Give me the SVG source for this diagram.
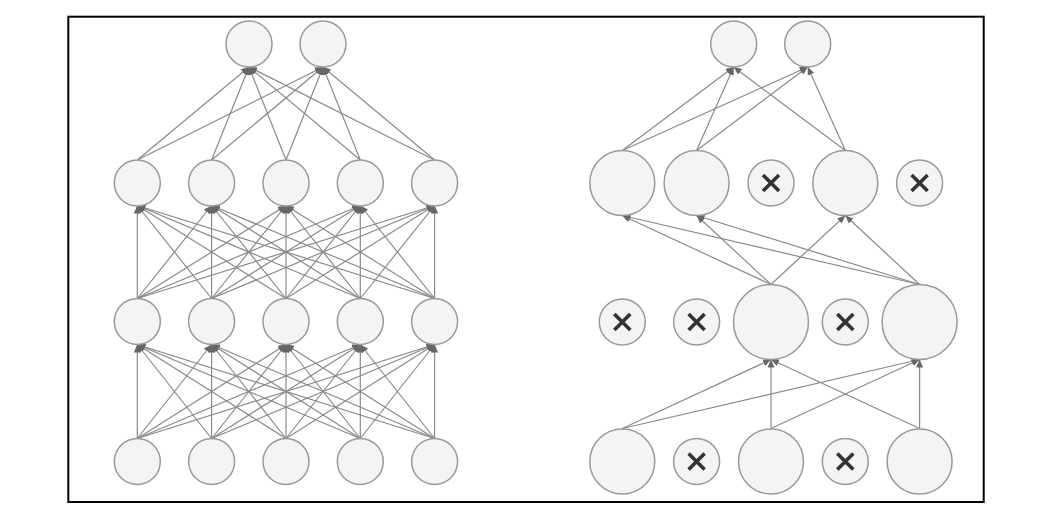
<svg xmlns="http://www.w3.org/2000/svg" width="1048" height="528" viewBox="0 0 1048 528">
<style>
.n{fill:#f4f4f4;stroke:#999;stroke-width:1.5}
.e line{stroke:#8a8a8a;stroke-width:1.2;marker-end:url(#a)}
.x{stroke:#333;stroke-width:3.6}
</style>
<defs>
<marker id="a" markerUnits="userSpaceOnUse" markerWidth="9" markerHeight="8" refX="8" refY="3.5" orient="auto">
<path d="M0,0 L8,3.5 L0,7 z" fill="#666"/>
</marker>
</defs>
<rect x="68.3" y="16.7" width="915.4" height="485.3" fill="#fff" stroke="#000" stroke-width="2"/>
<g id="connectors" class="e">
<!-- left L4 -> L3 -->
<line x1="137.3" y1="438.5" x2="137.3" y2="344.5"/><line x1="137.3" y1="438.5" x2="211.6" y2="344.5"/><line x1="137.3" y1="438.5" x2="286" y2="344.5"/><line x1="137.3" y1="438.5" x2="360.3" y2="344.5"/><line x1="137.3" y1="438.5" x2="434.6" y2="344.5"/>
<line x1="211.6" y1="438.5" x2="137.3" y2="344.5"/><line x1="211.6" y1="438.5" x2="211.6" y2="344.5"/><line x1="211.6" y1="438.5" x2="286" y2="344.5"/><line x1="211.6" y1="438.5" x2="360.3" y2="344.5"/><line x1="211.6" y1="438.5" x2="434.6" y2="344.5"/>
<line x1="286" y1="438.5" x2="137.3" y2="344.5"/><line x1="286" y1="438.5" x2="211.6" y2="344.5"/><line x1="286" y1="438.5" x2="286" y2="344.5"/><line x1="286" y1="438.5" x2="360.3" y2="344.5"/><line x1="286" y1="438.5" x2="434.6" y2="344.5"/>
<line x1="360.3" y1="438.5" x2="137.3" y2="344.5"/><line x1="360.3" y1="438.5" x2="211.6" y2="344.5"/><line x1="360.3" y1="438.5" x2="286" y2="344.5"/><line x1="360.3" y1="438.5" x2="360.3" y2="344.5"/><line x1="360.3" y1="438.5" x2="434.6" y2="344.5"/>
<line x1="434.6" y1="438.5" x2="137.3" y2="344.5"/><line x1="434.6" y1="438.5" x2="211.6" y2="344.5"/><line x1="434.6" y1="438.5" x2="286" y2="344.5"/><line x1="434.6" y1="438.5" x2="360.3" y2="344.5"/><line x1="434.6" y1="438.5" x2="434.6" y2="344.5"/>
<!-- left L3 -> L2 -->
<line x1="137.3" y1="298.5" x2="137.3" y2="205.5"/><line x1="137.3" y1="298.5" x2="211.6" y2="205.5"/><line x1="137.3" y1="298.5" x2="286" y2="205.5"/><line x1="137.3" y1="298.5" x2="360.3" y2="205.5"/><line x1="137.3" y1="298.5" x2="434.6" y2="205.5"/>
<line x1="211.6" y1="298.5" x2="137.3" y2="205.5"/><line x1="211.6" y1="298.5" x2="211.6" y2="205.5"/><line x1="211.6" y1="298.5" x2="286" y2="205.5"/><line x1="211.6" y1="298.5" x2="360.3" y2="205.5"/><line x1="211.6" y1="298.5" x2="434.6" y2="205.5"/>
<line x1="286" y1="298.5" x2="137.3" y2="205.5"/><line x1="286" y1="298.5" x2="211.6" y2="205.5"/><line x1="286" y1="298.5" x2="286" y2="205.5"/><line x1="286" y1="298.5" x2="360.3" y2="205.5"/><line x1="286" y1="298.5" x2="434.6" y2="205.5"/>
<line x1="360.3" y1="298.5" x2="137.3" y2="205.5"/><line x1="360.3" y1="298.5" x2="211.6" y2="205.5"/><line x1="360.3" y1="298.5" x2="286" y2="205.5"/><line x1="360.3" y1="298.5" x2="360.3" y2="205.5"/><line x1="360.3" y1="298.5" x2="434.6" y2="205.5"/>
<line x1="434.6" y1="298.5" x2="137.3" y2="205.5"/><line x1="434.6" y1="298.5" x2="211.6" y2="205.5"/><line x1="434.6" y1="298.5" x2="286" y2="205.5"/><line x1="434.6" y1="298.5" x2="360.3" y2="205.5"/><line x1="434.6" y1="298.5" x2="434.6" y2="205.5"/>
<!-- left L2 -> top -->
<line x1="137.3" y1="160" x2="249" y2="67"/><line x1="137.3" y1="160" x2="323" y2="67"/>
<line x1="211.6" y1="160" x2="249" y2="67"/><line x1="211.6" y1="160" x2="323" y2="67"/>
<line x1="286" y1="160" x2="249" y2="67"/><line x1="286" y1="160" x2="323" y2="67"/>
<line x1="360.3" y1="160" x2="249" y2="67"/><line x1="360.3" y1="160" x2="323" y2="67"/>
<line x1="434.6" y1="160" x2="249" y2="67"/><line x1="434.6" y1="160" x2="323" y2="67"/>
<!-- right L2 -> top -->
<line x1="622.3" y1="150.5" x2="733.7" y2="67"/><line x1="622.3" y1="150.5" x2="807.7" y2="67"/>
<line x1="696.6" y1="150.5" x2="733.7" y2="67"/><line x1="696.6" y1="150.5" x2="807.7" y2="67"/>
<line x1="845.3" y1="150.5" x2="733.7" y2="67"/><line x1="845.3" y1="150.5" x2="807.7" y2="67"/>
<!-- right L3 -> L2 -->
<line x1="771" y1="284.5" x2="622.3" y2="215.5"/><line x1="771" y1="284.5" x2="696.6" y2="215.5"/><line x1="771" y1="284.5" x2="845.3" y2="215.5"/>
<line x1="919.6" y1="284.5" x2="622.3" y2="215.5"/><line x1="919.6" y1="284.5" x2="696.6" y2="215.5"/><line x1="919.6" y1="284.5" x2="845.3" y2="215.5"/>
<!-- right L4 -> L3 -->
<line x1="622.3" y1="428.5" x2="771" y2="359.5"/><line x1="622.3" y1="428.5" x2="919.6" y2="359.5"/>
<line x1="771" y1="428.5" x2="771" y2="359.5"/><line x1="771" y1="428.5" x2="919.6" y2="359.5"/>
<line x1="919.6" y1="428.5" x2="771" y2="359.5"/><line x1="919.6" y1="428.5" x2="919.6" y2="359.5"/>
</g>
<!-- left network nodes -->
<g id="L-t1"><circle class="n" cx="249" cy="44" r="23"/></g>
<g id="L-t2"><circle class="n" cx="323" cy="44" r="23"/></g>
<g id="L-h2-1"><circle class="n" cx="137.3" cy="183" r="23"/></g>
<g id="L-h2-2"><circle class="n" cx="211.6" cy="183" r="23"/></g>
<g id="L-h2-3"><circle class="n" cx="286" cy="183" r="23"/></g>
<g id="L-h2-4"><circle class="n" cx="360.3" cy="183" r="23"/></g>
<g id="L-h2-5"><circle class="n" cx="434.6" cy="183" r="23"/></g>
<g id="L-h1-1"><circle class="n" cx="137.3" cy="321.5" r="23"/></g>
<g id="L-h1-2"><circle class="n" cx="211.6" cy="321.5" r="23"/></g>
<g id="L-h1-3"><circle class="n" cx="286" cy="321.5" r="23"/></g>
<g id="L-h1-4"><circle class="n" cx="360.3" cy="321.5" r="23"/></g>
<g id="L-h1-5"><circle class="n" cx="434.6" cy="321.5" r="23"/></g>
<g id="L-in-1"><circle class="n" cx="137.3" cy="461.5" r="23"/></g>
<g id="L-in-2"><circle class="n" cx="211.6" cy="461.5" r="23"/></g>
<g id="L-in-3"><circle class="n" cx="286" cy="461.5" r="23"/></g>
<g id="L-in-4"><circle class="n" cx="360.3" cy="461.5" r="23"/></g>
<g id="L-in-5"><circle class="n" cx="434.6" cy="461.5" r="23"/></g>
<!-- right network nodes -->
<g id="R-t1"><circle class="n" cx="733.7" cy="44" r="23"/></g>
<g id="R-t2"><circle class="n" cx="807.7" cy="44" r="23"/></g>
<g id="R-h2-1"><circle class="n" cx="622.3" cy="183" r="32.5"/></g>
<g id="R-h2-2"><circle class="n" cx="696.6" cy="183" r="32.5"/></g>
<g id="R-h2-3"><circle class="n" cx="771" cy="183" r="23"/><path class="x" d="M763,175 L779,191 M779,175 L763,191"/></g>
<g id="R-h2-4"><circle class="n" cx="845.3" cy="183" r="32.5"/></g>
<g id="R-h2-5"><circle class="n" cx="919.6" cy="183" r="23"/><path class="x" d="M911.6,175 L927.6,191 M927.6,175 L911.6,191"/></g>
<g id="R-h1-1"><circle class="n" cx="622.3" cy="322" r="23"/><path class="x" d="M614.3,314 L630.3,330 M630.3,314 L614.3,330"/></g>
<g id="R-h1-2"><circle class="n" cx="696.6" cy="322" r="23"/><path class="x" d="M688.6,314 L704.6,330 M704.6,314 L688.6,330"/></g>
<g id="R-h1-3"><circle class="n" cx="771" cy="322" r="37.5"/></g>
<g id="R-h1-4"><circle class="n" cx="845.3" cy="322" r="23"/><path class="x" d="M837.3,314 L853.3,330 M853.3,314 L837.3,330"/></g>
<g id="R-h1-5"><circle class="n" cx="919.6" cy="322" r="37.5"/></g>
<g id="R-in-1"><circle class="n" cx="622.3" cy="461.5" r="32.5"/></g>
<g id="R-in-2"><circle class="n" cx="696.6" cy="461.5" r="23"/><path class="x" d="M688.6,453.5 L704.6,469.5 M704.6,453.5 L688.6,469.5"/></g>
<g id="R-in-3"><circle class="n" cx="771" cy="461.5" r="32.5"/></g>
<g id="R-in-4"><circle class="n" cx="845.3" cy="461.5" r="23"/><path class="x" d="M837.3,453.5 L853.3,469.5 M853.3,453.5 L837.3,469.5"/></g>
<g id="R-in-5"><circle class="n" cx="919.6" cy="461.5" r="32.5"/></g>
</svg>
